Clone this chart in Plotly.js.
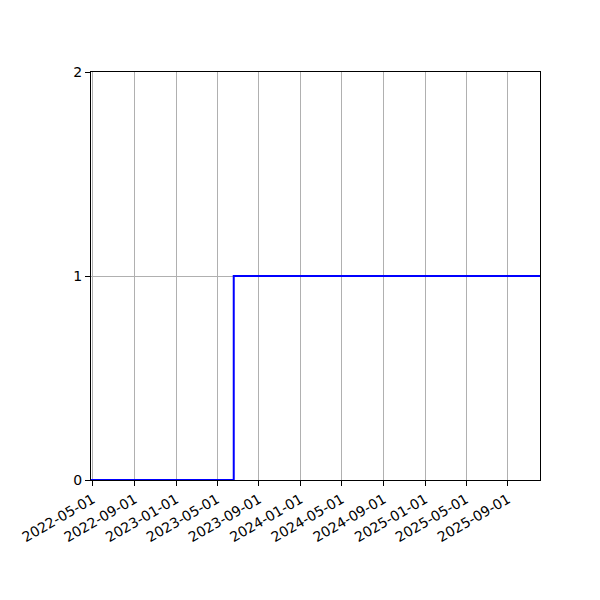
<!DOCTYPE html>
<html>
<head>
<meta charset="utf-8">
<script src="https://cdn.plot.ly/plotly-3.0.1.min.js"></script>
<style>
  html, body { margin: 0; padding: 0; background: #fff; }
  #plot { width: 600px; height: 600px; }
</style>
</head>
<body>
<div id="plot"></div>
<script>
// step series
var dates = ['2022-04-26', '2023-06-19', '2025-12-04'];
var values = [0, 1, 1];

var xTicks = ['2022-05-01', '2022-09-01', '2023-01-01', '2023-05-01', '2023-09-01',
    '2024-01-01', '2024-05-01', '2024-09-01', '2025-01-01', '2025-05-01', '2025-09-01'];
var yTicks = [0, 1, 2];

var axisStyle = {
    showline: true,
    linecolor: '#000',
    linewidth: 1,
    mirror: true,
    ticks: 'outside',
    ticklen: 5,
    tickwidth: 1,
    tickcolor: '#000',
    showgrid: true,
    gridcolor: '#b0b0b0',
    gridwidth: 1,
    zeroline: false,
    tickfont: {family: 'DejaVu Sans', size: 14, color: '#000'}
};

var trace = {
    x: dates,
    y: values,
    type: 'scatter',
    mode: 'lines',
    line: {shape: 'hv', color: '#0000ff', width: 2},
    cliponaxis: false,
    hoverinfo: 'skip'
};

var layout = {
    width: 600,
    height: 600,
    margin: {l: 91, r: 60, t: 72, b: 120, pad: 0},
    paper_bgcolor: '#fff',
    plot_bgcolor: '#fff',
    showlegend: false,
    xaxis: Object.assign({}, axisStyle, {
        type: 'date',
        range: [dates[0], dates[dates.length - 1]],
        tickmode: 'array',
        tickvals: xTicks,
        ticktext: xTicks,
        tickangle: -30
    }),
    yaxis: Object.assign({}, axisStyle, {
        range: [0, 2],
        tickmode: 'array',
        tickvals: yTicks,
        ticktext: yTicks.map(String)
    })
};

Plotly.newPlot('plot', [trace], layout, {staticPlot: true, displayModeBar: false});
</script>
</body>
</html>
